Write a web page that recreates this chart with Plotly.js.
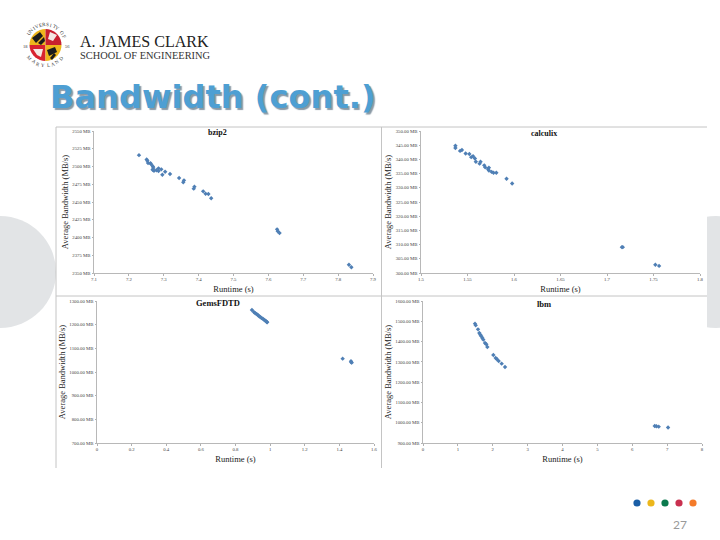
<!DOCTYPE html>
<html><head><meta charset="utf-8">
<script src="https://cdn.plot.ly/plotly-3.0.1.min.js"></script>
<style>html,body{margin:0;padding:0;background:#fff}#c{width:720px;height:540px}</style>
</head><body><div id="c"></div>
<script>
// ---------- data ----------
const bzip2Runtime = [7.229,7.251,7.253,7.255,7.262,7.264,7.269,7.270,7.268,7.272,7.279,7.285,7.285,7.293,7.296,7.304,7.318,7.344,7.358,7.356,7.388,7.386,7.413,7.420,7.428,7.436,7.625,7.627,7.632,7.831,7.838];
const bzip2Bandwidth = [2516,2510,2508,2505,2504.5,2503,2500,2498,2495.5,2494,2494.6,2497.4,2493.7,2496,2488.5,2492.7,2489.4,2483.8,2480.5,2477.7,2471.6,2468.8,2465,2461.7,2461.3,2455.2,2411.5,2408.7,2406.3,2361.7,2358];
const calculixRuntime = [1.537,1.537,1.542,1.544,1.548,1.552,1.554,1.556,1.558,1.559,1.563,1.564,1.568,1.569,1.572,1.573,1.573,1.576,1.578,1.581,1.592,1.598,1.716,1.717,1.752,1.756];
const calculixBandwidth = [344.8,344,343,343.3,342.1,341.9,340.8,341.1,340.3,339.2,338.5,339.2,337.9,337.2,336.6,337.1,336.1,335.6,335.3,335.3,333.2,331.5,309.1,309.1,302.9,302.5];
const gemsRuntime = [0.895,0.906,0.914,0.922,0.929,0.935,0.943,0.950,0.958,0.964,0.970,0.975,0.981,0.983,1.419,1.467,1.469,1.471];
const gemsBandwidth = [1262,1253.5,1248,1245,1241,1236.6,1232.4,1228.2,1225.4,1221.2,1218.3,1215.5,1211.3,1210,1056.4,1045.2,1041,1039.5];
const lbmRuntime = [1.491,1.511,1.577,1.616,1.644,1.673,1.702,1.730,1.778,1.816,1.845,2.017,2.084,2.122,2.170,2.256,2.352,6.644,6.692,6.759,7.027];
const lbmBandwidth = [1488.3,1480,1460.3,1442.3,1434,1426,1418,1409.4,1393,1386.4,1373.3,1334,1319,1312.5,1304.3,1291.1,1274.7,984,982.2,980.6,976];

const bzip2XTicks = [7.1,7.2,7.3,7.4,7.5,7.6,7.7,7.8,7.9];
const bzip2YTicks = [2350,2375,2400,2425,2450,2475,2500,2525,2550];
const calculixXTicks = [1.5,1.55,1.6,1.65,1.7,1.75,1.8];
const calculixYTicks = [300,305,310,315,320,325,330,335,340,345,350];
const gemsXTicks = [0,0.2,0.4,0.6,0.8,1,1.2,1.4,1.6];
const gemsYTicks = [700,800,900,1000,1100,1200,1300];
const lbmXTicks = [0,1,2,3,4,5,6,7,8];
const lbmYTicks = [900,1000,1100,1200,1300,1400,1500,1600];

const panelTitles = ['bzip2','calculix','GemsFDTD','lbm'];
const yTitle = 'Average Bandwidth (MB/s)';
const xTitle = 'Runtime (s)';
const footerColors = ['#1a5ea6','#ecb71c','#0b7a4e','#c9304f','#f47b2a'];
const footerDotX = [637,651,665,679,693];

// ---------- layout helpers ----------
const W=720,H=540;
const fx=x=>x/W, fy=y=>1-y/H;
const serif='"Liberation Serif", serif';
const mb=(v,d)=>v.toFixed(d)+' MB';

const shapes=[], annotations=[];
function rect(x0,y0,x1,y1,fill){shapes.push({type:'rect',xref:'paper',yref:'paper',x0:fx(x0),x1:fx(x1),y0:fy(y0),y1:fy(y1),fillcolor:fill,line:{width:0},layer:'below'});}
function circle(cx,cy,r,fill){shapes.push({type:'circle',xref:'paper',yref:'paper',x0:fx(cx-r),x1:fx(cx+r),y0:fy(cy-r),y1:fy(cy+r),fillcolor:fill,line:{width:0},layer:'below'});}
function line(x0,y0,x1,y1,c,w){shapes.push({type:'line',xref:'paper',yref:'paper',x0:fx(x0),x1:fx(x1),y0:fy(y0),y1:fy(y1),line:{color:c,width:w||1},layer:'below'});}
function poly(pts,fill){shapes.push({type:'path',xref:'paper',yref:'paper',path:'M'+pts.map(p=>fx(p[0])+' '+fy(p[1])).join('L')+'Z',fillcolor:fill,line:{width:0},layer:'below'});}
function text(t,x,y,size,color,family,opts){annotations.push(Object.assign({text:t,xref:'paper',yref:'paper',x:fx(x),y:fy(y),showarrow:false,xanchor:'center',yanchor:'middle',font:{size:size,color:color,family:family}},opts||{}));}

// background decorations
circle(0,272,56,'#e2e4e6');
circle(716,272,56,'#e2e4e6');
rect(56,127,707,468,'#ffffff');
// frames of the pasted charts
line(56,127,707,127,'#c4c4c4',1);
line(56,296,707,296,'#c4c4c4',1);
line(56,127,56,468,'#c4c4c4',1);
line(381.5,127,381.5,468,'#c4c4c4',1);

// seal
const sx=45.5,sy=45,sr=16;
function pie(a0,a1,c){const p=[[sx,sy]];for(let a=a0;a<=a1;a+=10){const t=a*Math.PI/180;p.push([sx+sr*Math.cos(t),sy+sr*Math.sin(t)]);}poly(p,c);}
pie(180,270,'#eeb61c');pie(270,360,'#c8202f');pie(90,180,'#d8222f');pie(0,90,'#eeb61c');
poly([[32,38],[40,32],[43,36],[36,43]],'#1c1c1c');
poly([[38,43],[44,37],[45,41],[41,45]],'#1c1c1c');
poly([[50,32],[57,35],[53,41],[48,39]],'#f4e8e4');
poly([[33,49],[43,49],[41,57],[37,55]],'#f4e8e4');
poly([[47,50],[55,47],[57,52],[49,56]],'#1c1c1c');
poly([[50,58],[54,53],[56,55],[52,60]],'#1c1c1c');
function arcText(str,a0,a1,r){const n=str.length;for(let i=0;i<n;i++){const a=a0+(a1-a0)*i/(n-1);const t=a*Math.PI/180;const flip=Math.sin(t)>0.3;
  text(str[i],sx+r*Math.cos(t),sy+r*Math.sin(t),5,'#333',serif,{textangle:flip?(a-90):(a+90)});}}
arcText('UNIVERSITY OF',-145,-25,20.5);
arcText('MARYLAND',140,40,20.5);
text('18',25,47,4.5,'#333',serif);
text('56',67,47,4.5,'#333',serif);

// header
text('A. JAMES CLARK',144.5,41,16,'#222',serif);
text('SCHOOL OF ENGINEERING',145,55,10.4,'#333',serif);
text('Bandwidth (cont.)',212.5,97,32.1,'#4e9fd3','"DejaVu Sans", sans-serif',{font:{size:32.1,color:'#4e9fd3',family:'"DejaVu Sans", sans-serif',weight:700,shadow:'2px 2px 1px #8a9aa6'}});

// panel titles
text(panelTitles[0],218,133,8,'#111',serif,{font:{size:8,color:'#111',family:serif,weight:700}});
text(panelTitles[1],544,133.5,8,'#111',serif,{font:{size:8,color:'#111',family:serif,weight:700}});
text(panelTitles[2],218,303,8.5,'#111',serif,{font:{size:8.5,color:'#111',family:serif,weight:700}});
text(panelTitles[3],544,303.5,8.5,'#111',serif,{font:{size:8.5,color:'#111',family:serif,weight:700}});

// footer
footerColors.forEach((c,i)=>circle(footerDotX[i],503,3.6,c));
text('27',680,524,12,'#9a9a9a','Lato, sans-serif');

// ---------- traces & axes ----------
const marker={symbol:'diamond',size:3.4,color:'#4f7fb5',line:{width:0}};
const panels=[
 {x:bzip2Runtime,y:bzip2Bandwidth,xt:bzip2XTicks,yt:bzip2YTicks,d:[94,373,131,273],yd:0},
 {x:calculixRuntime,y:calculixBandwidth,xt:calculixXTicks,yt:calculixYTicks,d:[421,700,131,273],yd:2},
 {x:gemsRuntime,y:gemsBandwidth,xt:gemsXTicks,yt:gemsYTicks,d:[97,374,301,443],yd:2},
 {x:lbmRuntime,y:lbmBandwidth,xt:lbmXTicks,yt:lbmYTicks,d:[423,702,301,443],yd:2}
];
const traces=[];
const layout={width:W,height:H,margin:{l:0,r:0,t:0,b:0},paper_bgcolor:'#fff',plot_bgcolor:'rgba(0,0,0,0)',showlegend:false,hovermode:false,shapes,annotations};
panels.forEach((p,i)=>{
  const n=i+1, xk='xaxis'+(i?n:''), yk='yaxis'+(i?n:'');
  traces.push({type:'scatter',mode:'markers',x:p.x,y:p.y,xaxis:'x'+(i?n:''),yaxis:'y'+(i?n:''),marker,cliponaxis:false});
  const tf={size:4.8,color:'#444',family:serif};
  layout[xk]={domain:[fx(p.d[0]),fx(p.d[1])],range:[p.xt[0],p.xt[p.xt.length-1]],anchor:'y'+(i?n:''),
    tickvals:p.xt,ticktext:p.xt.map(String),ticks:'outside',ticklen:1.5,tickcolor:'#b0b0b0',tickfont:tf,showgrid:false,zeroline:false,showline:true,linecolor:'#b8b8b8',linewidth:1,
    title:{text:xTitle,font:{size:8.5,color:'#222',family:serif},standoff:4},automargin:false};
  layout[yk]={domain:[fy(p.d[3]),fy(p.d[2])],range:[p.yt[0],p.yt[p.yt.length-1]],anchor:'x'+(i?n:''),
    tickvals:p.yt,ticktext:p.yt.map(v=>mb(v,p.yd)),ticks:'outside',ticklen:1.5,tickcolor:'#b0b0b0',tickfont:tf,showgrid:false,zeroline:false,showline:true,linecolor:'#b8b8b8',linewidth:1,
    title:{text:yTitle,font:{size:8.5,color:'#222',family:serif},standoff:2},automargin:false};
});
Plotly.newPlot('c',traces,layout,{displayModeBar:false,staticPlot:true});
</script></body></html>
